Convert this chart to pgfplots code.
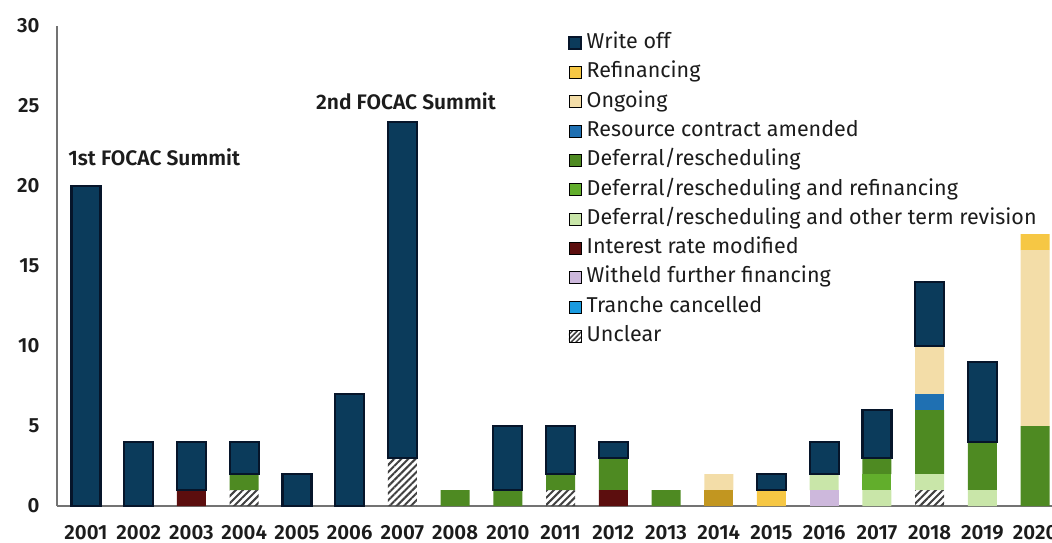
\documentclass[border=0pt]{standalone}
\usepackage{fontspec}
\setmainfont{Fira Sans}[BoldFont={Fira Sans SemiBold}]
\usepackage{pgfplots}
\pgfplotsset{compat=1.18}
\usepackage{pgfplotstable}
\usetikzlibrary{patterns.meta}

\definecolor{wof}{HTML}{0B3B5B}
\definecolor{wod}{HTML}{06152A}
\definecolor{ref}{HTML}{F6C744}
\definecolor{ong}{HTML}{F3DDA8}
\definecolor{res}{HTML}{1F70B2}
\definecolor{def}{HTML}{4E8A22}
\definecolor{dre}{HTML}{62AE2C}
\definecolor{dot}{HTML}{C9E6A9}
\definecolor{int}{HTML}{5C0E0E}
\definecolor{wit}{HTML}{CDB8DC}
\definecolor{tra}{HTML}{1A9BE0}
\definecolor{gol}{HTML}{C29620}
\definecolor{txt}{HTML}{1C1C1C}

% stacked segments below the write-offs
% unclear, interest, withheld, def+other, def+refi, deferral, resource, (2014 gold), ongoing, refinancing
\pgfplotstableread{
x  unc int wit dot dre def res gol ong ref
0  0   0   0   0   0   0   0   0   0   0
1  0   0   0   0   0   0   0   0   0   0
2  0   1   0   0   0   0   0   0   0   0
3  1   0   0   0   0   1   0   0   0   0
4  0   0   0   0   0   0   0   0   0   0
5  0   0   0   0   0   0   0   0   0   0
6  3   0   0   0   0   0   0   0   0   0
7  0   0   0   0   0   1   0   0   0   0
8  0   0   0   0   0   1   0   0   0   0
9  1   0   0   0   0   1   0   0   0   0
10 0   1   0   0   0   2   0   0   0   0
11 0   0   0   0   0   1   0   0   0   0
12 0   0   0   0   0   0   0   1   1   0
13 0   0   0   0   0   0   0   0   0   1
14 0   0   1   1   0   0   0   0   0   0
15 0   0   0   1   1   1   0   0   0   0
16 1   0   0   1   0   4   1   0   3   0
17 0   0   0   1   0   3   0   0   0   0
18 0   0   0   0   0   5   0   0   11  1
}\data

% write offs (years that have them), on top of the other segments
\pgfplotstableread{
x  base wof
0  0    20
1  0    4
2  1    3
3  2    2
4  0    2
5  0    7
6  3    21
8  1    4
9  2    3
10 3    1
13 1    1
14 2    2
15 3    3
16 10   4
17 4    5
}\wo

\newcommand{\lsq}[2]{\addlegendimage{legend image code/.code={\path[#1] (0pt,-6pt) rectangle (12pt,6pt);}}\addlegendentry{#2}}

\begin{document}
\begin{tikzpicture}
\useasboundingbox (0,0) rectangle (1052pt,542pt);
\pgfplotsset{frame/.style={
  at={(57pt,36pt)}, anchor=south west,
  scale only axis, width=995pt, height=480pt,
  ybar stacked, bar width=29pt,
  xmin=-0.55, xmax=18.32, ymin=0, ymax=30}}
\begin{axis}[
  frame,
  xtick={0,...,18},
  xticklabels={2001,2002,2003,2004,2005,2006,2007,2008,2010,2011,2012,2013,2014,2015,2016,2017,2018,2019,2020},
  ytick={0,5,...,30},
  major tick length=0pt,
  axis x line=bottom, axis y line=left,
  axis line style={-, draw=black!55, line width=1.3pt},
  tick label style={font=\fontsize{20.5}{22}\selectfont\bfseries, text=txt},
  /pgf/number format/assume math mode=true,
  xticklabel style={yshift=-16pt},
  yticklabel style={xshift=-14pt},
  clip=false,
  legend style={at={(0.5136,0.9867)}, anchor=north west, draw=none, fill=none,
    inner sep=0pt, font=\fontsize{21.5}{24}\selectfont, text=txt,
    row sep=8.3pt, column sep=5pt, cells={anchor=west},
    nodes={inner sep=0pt, text height=16pt, text depth=5pt}},
]
\lsq{fill=wof, draw=wod, line width=1.2pt}{Write off}
\lsq{fill=ref}{Refinancing}
\lsq{fill=ong}{Ongoing}
\lsq{fill=res}{Resource contract amended}
\lsq{fill=def}{Deferral/rescheduling}
\lsq{fill=dre}{Deferral/rescheduling and refinancing}
\lsq{fill=dot}{Deferral/rescheduling and other term revision}
\lsq{fill=int}{Interest rate modified}
\lsq{fill=wit}{Witheld further financing}
\lsq{fill=tra}{Tranche cancelled}
\lsq{pattern={Lines[angle=45,distance=3.5pt,line width=1.5pt]}, pattern color=black!75}{Unclear}

\addplot[forget plot, draw=none, pattern={Lines[angle=45,distance=5pt,line width=2pt]}, pattern color=black!75] table[x=x,y=unc] {\data};
\addplot[forget plot, draw=none, fill=int] table[x=x,y=int] {\data};
\addplot[forget plot, draw=none, fill=wit] table[x=x,y=wit] {\data};
\addplot[forget plot, draw=none, fill=dot] table[x=x,y=dot] {\data};
\addplot[forget plot, draw=none, fill=dre] table[x=x,y=dre] {\data};
\addplot[forget plot, draw=none, fill=def] table[x=x,y=def] {\data};
\addplot[forget plot, draw=none, fill=res] table[x=x,y=res] {\data};
\addplot[forget plot, draw=none, fill=gol] table[x=x,y=gol] {\data};
\addplot[forget plot, draw=none, fill=ong] table[x=x,y=ong] {\data};
\addplot[forget plot, draw=none, fill=ref] table[x=x,y=ref] {\data};

\node[anchor=west, inner sep=0pt, font=\fontsize{21}{24}\selectfont\bfseries, text=txt] at (axis cs:-0.34,21.8) {1st FOCAC Summit};
\node[anchor=west, inner sep=0pt, font=\fontsize{21}{24}\selectfont\bfseries, text=txt] at (axis cs:4.36,25.3) {2nd FOCAC Summit};
\end{axis}
% write-off bars, outlined, stacked on the segments below
\begin{axis}[frame, hide axis]
\addplot[draw=none, fill=none] table[x=x,y=base] {\wo};
\addplot[draw=wod, line width=2.2pt, fill=wof] table[x=x,y=wof] {\wo};
\end{axis}
\end{tikzpicture}
\end{document}
